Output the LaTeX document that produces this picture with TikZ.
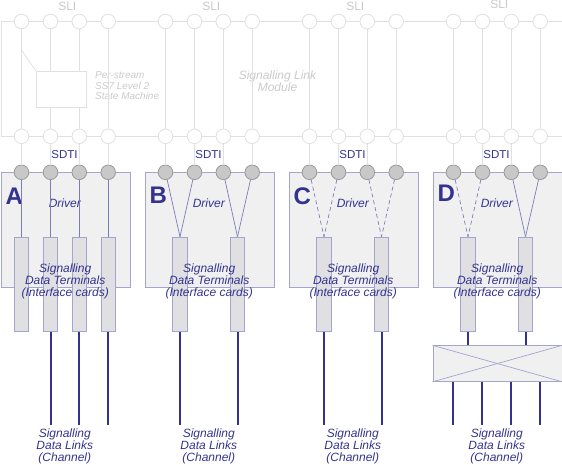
\documentclass[tikz,border=0pt]{standalone}
\usepackage{fontspec}
\setmainfont{Liberation Sans}
\definecolor{sliline}{HTML}{E0E0E0}
\definecolor{slitext}{HTML}{CACACA}
\definecolor{navy}{HTML}{33338F}
\definecolor{lav}{HTML}{A4A4CE}
\definecolor{conncol}{HTML}{7C7CBC}
\definecolor{boxfill}{HTML}{F0F0F0}
\definecolor{termfill}{HTML}{E0E0E2}
\definecolor{sdtifill}{HTML}{C8C8C8}
\definecolor{sdtiedge}{HTML}{9A9A9A}
\begin{document}
\begin{tikzpicture}[x=1pt,y=-1pt,
  slic/.style={circle,draw=sliline,fill=white,line width=0.8pt,minimum size=14.6pt,inner sep=0pt},
  sliln/.style={draw=sliline,line width=0.8pt},
  slitxt/.style={text=slitext,font=\fontsize{12}{12}\selectfont,inner sep=0pt},
  slitxti/.style={text=slitext,font=\fontsize{12}{12}\selectfont\itshape,inner sep=0pt,align=center},
  sdtic/.style={circle,draw=sdtiedge,fill=sdtifill,line width=0.8pt,minimum size=14.6pt,inner sep=0pt},
  drvbox/.style={draw=lav,fill=boxfill,line width=0.8pt,minimum width=129pt,minimum height=114.4pt,inner sep=0pt,anchor=north west},
  term/.style={draw=lav,fill=termfill,line width=0.8pt,minimum width=14.5pt,minimum height=94pt,inner sep=0pt},
  conn/.style={draw=conncol,line width=0.7pt},
  dconn/.style={draw=conncol,line width=0.7pt,dash pattern=on 4pt off 3pt},
  link/.style={draw=navy,line width=2pt},
  navytxt/.style={text=navy,font=\fontsize{12}{12}\selectfont\itshape,align=center,inner sep=0pt},
  sdtitxt/.style={text=navy,font=\fontsize{11.5}{12}\selectfont,inner sep=0pt},
  bigl/.style={text=navy,font=\fontsize{24}{24}\selectfont\bfseries,inner sep=0pt}]
\useasboundingbox (0,0) rectangle (562,465);

% ---------------- SLI (top, light gray) ----------------
\node[sliln,minimum width=561pt,minimum height=114.8pt,inner sep=0pt,anchor=north west] (slibus) at (0.5,21.5) {};
\node[draw=sliline,fill=white,line width=0.8pt,minimum width=50pt,minimum height=36pt,inner sep=0pt,anchor=north west] (psm) at (36,71) {};
\node[slitxti,align=left,anchor=west,font=\fontsize{10}{10.5}\selectfont\itshape] (psmtxt) at (95,86) {Per-stream\\SS7 Level 2\\State Machine};
\node[slitxti] (slmtxt) at (277.5,81) {Signalling Link\\Module};

\foreach \g/\L/\sy in {0/A/6,144/B/6,288/C/6,432/D/4} {
  \node[slitxt] (sli\L) at (\g+67.3,\sy) {SLI};
  \foreach \i/\dx in {1/21.5,2/50.5,3/79.3,4/108.2} {
    \node[slic] (s\L\i) at (\g+\dx,21.5) {};
    \node[slic] (b\L\i) at (\g+\dx,136.3) {};
  }
}
\foreach \L/\i in {A/1,A/4,B/1,B/2,B/3,B/4,C/1,C/2,C/3,C/4,D/1,D/2,D/3,D/4}
  \draw[sliln] (s\L\i) -- (b\L\i);
\draw[sliln] (sA2) -- (sA2 |- psm.north);
\draw[sliln] (sA2 |- psm.south) -- (bA2);
\draw[sliln] (sA3) -- (sA3 |- psm.north);
\draw[sliln] (sA3 |- psm.south) -- (bA3);
\coordinate (tap) at (21.5,50);
\draw[sliln] (tap) -- (psm.north west);

% ---------------- Driver boxes and SDTI ----------------
\foreach \g/\L/\ly in {0/A/196,144/B/195.5,288/C/196,432/D/193.7} {
  \node[drvbox] (drv\L) at (\g+0.5,172.3) {};
  \node[sdtitxt] (sdti\L) at (\g+64.5,155) {SDTI};
  \node[bigl] (let\L) at (\g+14.2,\ly) {\L};
  \node[navytxt] (drvtxt\L) at (\g+64.8,203) {Driver};
  \foreach \i/\dx in {1/21.5,2/50.5,3/79.3,4/108.2} {
    \node[sdtic] (d\L\i) at (\g+\dx,172.3) {};
    \draw[sliln] (b\L\i) -- (d\L\i);
  }
}

% terminals
\foreach \i/\dx in {1/21.5,2/50.5,3/79.3,4/108.2}
  \node[term] (tA\i) at (\dx,284.2) {};
\foreach \g/\L in {144/B,288/C,432/D} {
  \node[term] (t\L1) at (\g+36,284.2) {};
  \node[term] (t\L2) at (\g+93.5,284.2) {};
}

% driver connections
\foreach \i in {1,2,3,4}
  \draw[conn] (dA\i) -- (tA\i.north);
\draw[conn] (dB1) -- (tB1.north);
\draw[conn] (dB2) -- (tB1.north);
\draw[conn] (dB3) -- (tB2.north);
\draw[conn] (dB4) -- (tB2.north);
\draw[dconn] (dC1) -- (tC1.north);
\draw[dconn] (dC2) -- (tC1.north);
\draw[dconn] (dC3) -- (tC2.north);
\draw[dconn] (dC4) -- (tC2.north);
\draw[dconn] (dD1) -- (tD1.north);
\draw[dconn] (dD2) -- (tD1.north);
\draw[conn] (dD3) -- (tD2.north);
\draw[conn] (dD4) -- (tD2.north);

% texts
\foreach \g/\L in {0/A,144/B,288/C,432/D} {
  \node[navytxt] (sdt\L) at (\g+65.2,281) {Signalling\\Data Terminals\\(Interface cards)};
  \node[navytxt] (sdl\L) at (\g+64.8,446) {Signalling\\Data Links\\(Channel)};
}

% links
\foreach \i in {2,3,4} {
  \coordinate (lA\i) at (tA\i.south |- 0,425);
  \draw[link] (tA\i.south) -- (lA\i);
}
\foreach \L in {B,C} \foreach \i in {1,2} {
  \coordinate (l\L\i) at (t\L\i.south |- 0,425);
  \draw[link] (t\L\i.south) -- (l\L\i);
}
% crossbar
\node[draw=lav,fill=boxfill,line width=0.8pt,minimum width=129pt,minimum height=35.7pt,inner sep=0pt,anchor=north west] (xb) at (432.5,345.3) {};
\draw[conn,draw=lav] (xb.north west) -- (xb.south east);
\draw[conn,draw=lav] (xb.south west) -- (xb.north east);
\draw[link] (tD1.south) -- (tD1.south |- xb.north);
\draw[link] (tD2.south) -- (tD2.south |- xb.north);
\foreach \i/\x in {1/453,2/482,3/511,4/540} {
  \coordinate (lD\i) at (\x,425);
  \draw[link] (\x,0 |- xb.south) -- (lD\i);
}
\end{tikzpicture}
\end{document}
